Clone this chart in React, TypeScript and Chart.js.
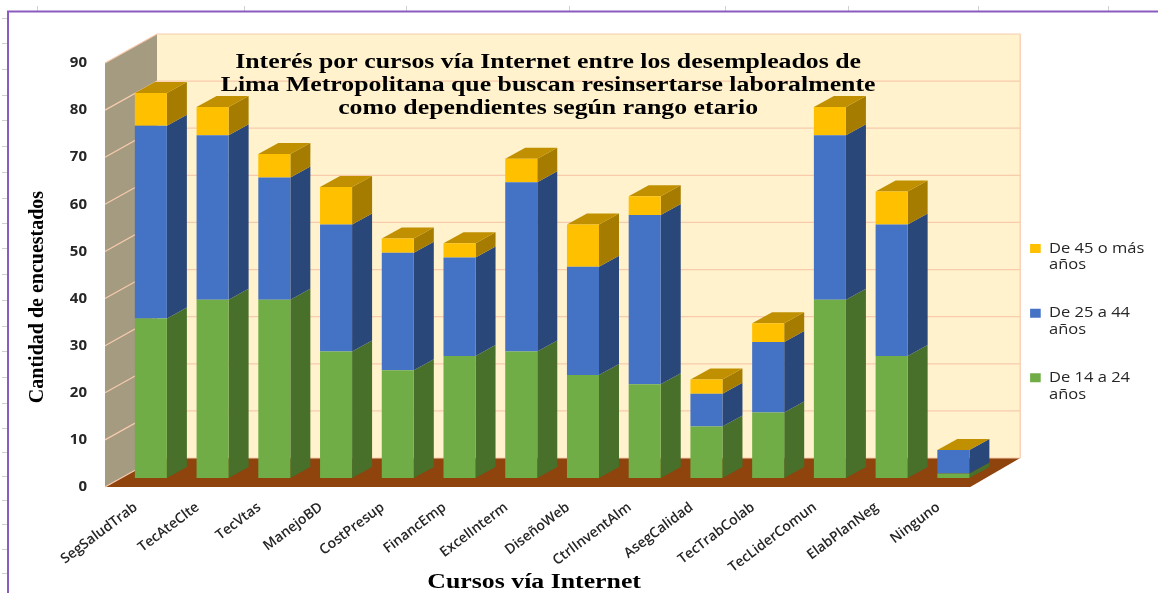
import React, { useEffect, useRef } from "react";
import { Chart, registerables } from "chart.js";

Chart.register(...registerables);

const categories = ["SegSaludTrab","TecAteClte","TecVtas","ManejoBD","CostPresup","FinancEmp","ExcelInterm","DiseñoWeb","CtrlInventAlm","AsegCalidad","TecTrabColab","TecLiderComun","ElabPlanNeg","Ninguno"];
const joven = [35,39,39,28,24,27,28,23,21,12,15,39,27,2];
const adulto = [41,35,26,27,25,21,36,23,36,7,15,35,28,5];
const mayor = [7,6,5,8,3,3,5,9,4,3,4,6,7,0];
const titleLines = ["Interés por cursos vía Internet entre los desempleados de","Lima Metropolitana que buscan resinsertarse laboralmente","como dependientes según rango etario"];
const rulerX = [37,244,406,569,725,848,978,1108];
const rulerY = [18,43,69,95,120,146,172,198,223,248,274,300,326,351,377,403,428,452,476,500,524,549,573];

const SIDE: Record<string,string> = { "#70AD47":"#48702B", "#4472C4":"#2A4779", "#FFC000":"#A67C00" };

const wrap = (obj: any, name: string, sx: number, dx: number, dy: number, cx: number) => {
  if (obj["__w" + name]) return;
  obj["__w" + name] = true;
  const f = obj[name];
  obj[name] = function (...a: any[]) {
    const c = this.ctx;
    c.save();
    c.translate(cx + dx, dy);
    c.scale(sx, 1);
    c.translate(-cx, 0);
    f.apply(this, a);
    c.restore();
  };
};

const poly = (c: CanvasRenderingContext2D, pts: number[][], fill: string) => {
  c.fillStyle = fill;
  c.beginPath();
  pts.forEach((p, i) => (i ? c.lineTo(p[0], p[1]) : c.moveTo(p[0], p[1])));
  c.closePath();
  c.fill();
};

const scenePlugin = {
  id: "scene",
  afterLayout(chart: any) {
    if (chart.titleBlock) wrap(chart.titleBlock, "draw", 1.29, -4, 0, (chart.chartArea.left + chart.chartArea.right) / 2);
    if (chart.legend) wrap(chart.legend, "draw", 1.18, 0, 0, 1031);
  },
  beforeDraw(chart: any) {
    const c = chart.ctx;
    const { left, right } = chart.chartArea;
    const y = chart.scales.y;
    const y0 = y.getPixelForValue(0), y90 = y.getPixelForValue(90);
    const fl = left - 15, bl = left + 37, br = right + 36, fr = right - 14, d = 29;
    c.save();
    // page frame & ruler
    c.strokeStyle = "#D0D0D0"; c.lineWidth = 1;
    rulerX.forEach(x => { c.beginPath(); c.moveTo(x + .5, 6); c.lineTo(x + .5, 11); c.stroke(); });
    rulerY.forEach(v => { c.beginPath(); c.moveTo(2, v + .5); c.lineTo(7, v + .5); c.stroke(); });
    c.strokeStyle = "#8A5CBF"; c.lineWidth = 2;
    c.beginPath(); c.moveTo(8, 593); c.lineTo(8, 11.5); c.lineTo(1158, 11.5); c.stroke();
    // walls
    poly(c, [[bl, y90 - d], [br, y90 - d], [br, y0 - d], [bl, y0 - d]], "#FFF2CC");
    poly(c, [[fl, y90], [bl, y90 - d], [bl, y0 - d], [fl, y0]], "#A59B80");
    poly(c, [[fl, y0], [bl, y0 - d], [br, y0 - d], [fr, y0]], "#8F430D");
    c.strokeStyle = "#F8CBAD"; c.lineWidth = 1.2;
    y.ticks.forEach((t: any) => {
      const p = y.getPixelForValue(t.value);
      c.beginPath(); c.moveTo(fl, p); c.lineTo(bl, p - d); c.lineTo(br, p - d); c.stroke();
    });
    c.beginPath(); c.moveTo(br, y90 - d); c.lineTo(br, y0 - d); c.stroke();
    c.restore();
  },
  beforeDatasetsDraw(chart: any) {
    const c = chart.ctx;
    const floorY = chart.chartArea.bottom - 9, dx = 20, dy = 11;
    c.save();
    chart.data.datasets.forEach((ds: any, di: number) => {
      const meta = chart.getDatasetMeta(di);
      meta.data.forEach((b: any) => {
        const p = b.getProps(["x", "y", "base", "width"], true);
        const r = p.x + p.width / 2, l = p.x - p.width / 2;
        const base = Math.min(p.base, floorY);
        if (base > p.y) poly(c, [[r, p.y], [r + dx, p.y - dy], [r + dx, base - dy], [r, base]], SIDE[ds.backgroundColor]);
        if (di === chart.data.datasets.length - 1) poly(c, [[l, p.y], [l + dx, p.y - dy], [r + dx, p.y - dy], [r, p.y]], "#C09000");
      });
    });
    c.restore();
  },
};

export default function App() {
  const ref = useRef<HTMLCanvasElement>(null);
  useEffect(() => {
    const clip = { left: false, right: false, top: false, bottom: -9 } as any;
    const common = { categoryPercentage: 1, barPercentage: 0.519, yAxisID: "y2", clip, borderWidth: 0 };
    const chart = new Chart(ref.current!, {
      type: "bar",
      data: {
        labels: categories,
        datasets: [
          { label: "De 14 a 24 años", data: joven, backgroundColor: "#70AD47", ...common },
          { label: "De 25 a 44 años", data: adulto, backgroundColor: "#4472C4", ...common },
          { label: "De 45 o más años", data: mayor, backgroundColor: "#FFC000", ...common },
        ],
      },
      plugins: [scenePlugin],
      options: {
        animation: false,
        responsive: false,
        layout: { padding: { left: 26, right: 21, top: 63, bottom: 10 } },
        scales: {
          x: {
            stacked: true,
            grid: { display: false },
            border: { display: false },
            ticks: { color: "#262626", font: { family: "'Open Sans'", size: 14, weight: 600 }, minRotation: 37, maxRotation: 37, autoSkip: false, labelOffset: -15, padding: 4 },
            title: { display: true, text: "Cursos vía Internet", color: "#000", font: { family: "'Liberation Serif'", size: 20, weight: "bold" }, padding: 0 },
            afterFit(s: any) { s.height = 96; wrap(s, "drawTitle", 1.29, -18, 12, 552); },
          },
          y: {
            min: 0, max: 90,
            grid: { display: false },
            border: { display: false },
            ticks: { stepSize: 10, color: "#262626", font: { family: "'Open Sans'", size: 15, weight: 700 }, padding: 25 },
            title: { display: true, text: "Cantidad de encuestados", color: "#000", font: { family: "'Liberation Serif'", size: 20, weight: "bold" }, padding: 0 },
            afterFit(s: any) { s.width = 94; wrap(s, "drawTitle", 1, 0, 22, 0); },
          },
          y2: {
            stacked: true,
            position: "right",
            min: -0.85, max: 89.36,
            grid: { display: false },
            border: { display: false },
            ticks: { display: false },
            afterFit(s: any) { s.width = 15; },
          },
        },
        plugins: {
          title: {
            display: true,
            text: titleLines,
            color: "#000",
            fullSize: false,
            font: { family: "'Liberation Serif'", size: 20, weight: "bold", lineHeight: 1.15 },
            padding: { top: -12, bottom: -57 },
          },
          legend: {
            position: "right",
            reverse: true,
            labels: {
              color: "#262626",
              font: { family: "'Open Sans'", size: 14 },
              boxWidth: 9,
              boxHeight: 9,
              padding: 31,
              generateLabels(chart: any) {
                return chart.data.datasets.map((ds: any, i: number) => {
                  const words = ds.label.split(" ");
                  return { text: [words.slice(0, -1).join(" "), words[words.length - 1]], fillStyle: ds.backgroundColor, strokeStyle: ds.backgroundColor, lineWidth: 0, fontColor: "#262626", datasetIndex: i, hidden: false };
                });
              },
            },
          },
          tooltip: { enabled: false },
        },
      } as any,
    });
    return () => chart.destroy();
  }, []);
  return (
    <div style={{ position: "absolute", left: 0, top: 0, width: 1158, height: 593 }}>
      <canvas ref={ref} width={1158} height={593} style={{ display: "block" }} />
    </div>
  );
}
